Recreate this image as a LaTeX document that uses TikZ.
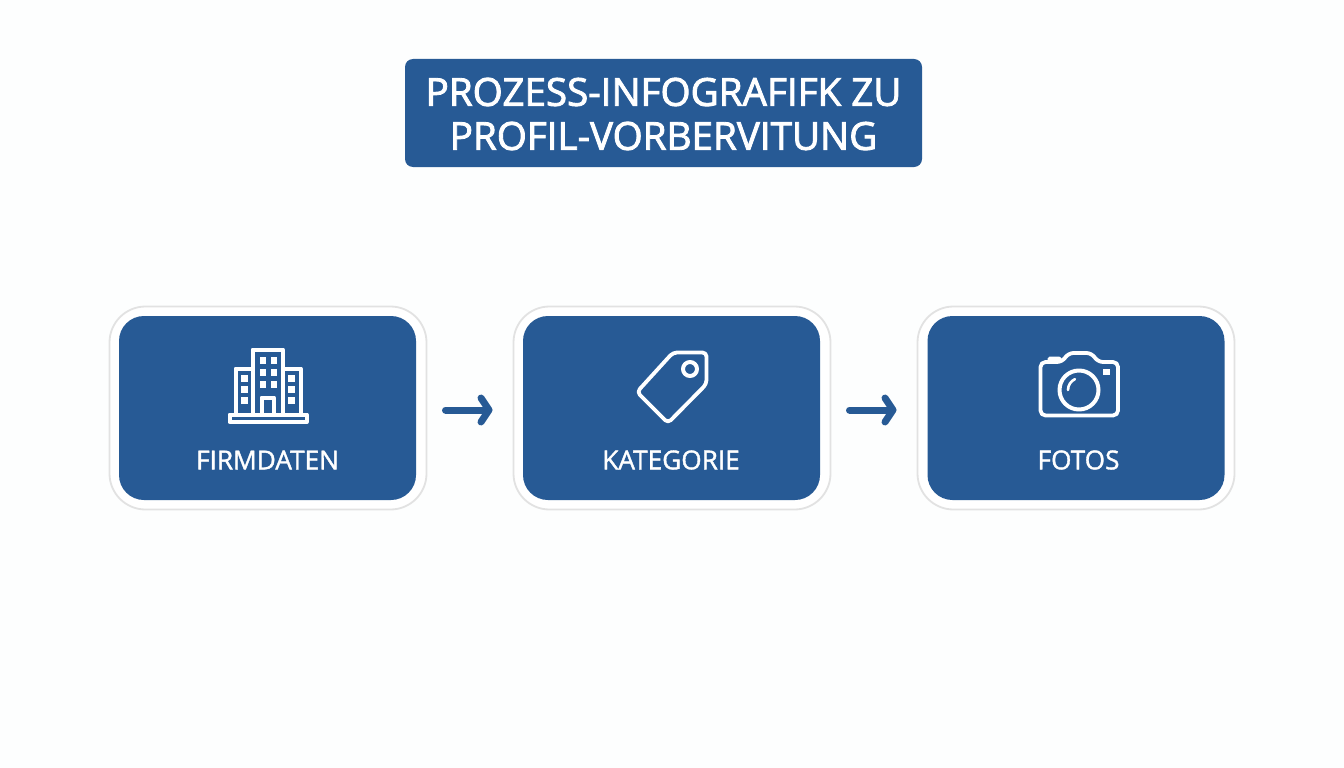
\documentclass[tikz,border=0pt]{standalone}
\usepackage{fontspec}
\setmainfont{Open Sans}
\newfontfamily\titlefont[FakeBold=2.2]{Open Sans}
\newfontfamily\labelfont[FakeBold=1.4]{Open Sans}
\usetikzlibrary{arrows.meta}
\definecolor{brand}{HTML}{275A95}
\definecolor{ringgray}{HTML}{E2E2E2}
\definecolor{paper}{HTML}{FDFEFE}
\tikzset{
  ring/.style={draw=ringgray,line width=1.8pt,fill=white,rounded corners=36pt,minimum width=317pt,minimum height=203pt,inner sep=0pt,outer sep=0pt},
  panel/.style={fill=brand,rounded corners=25pt,minimum width=297pt,minimum height=184pt,inner sep=0pt,outer sep=0pt},
  banner/.style={fill=brand,rounded corners=8pt,minimum width=517pt,minimum height=108pt,inner sep=0pt,outer sep=0pt},
  banner text/.style={text=white,font=\titlefont\fontsize{38.6}{44}\selectfont,align=center,inner sep=0pt},
  caption/.style={text=white,font=\labelfont\fontsize{26.2}{30}\selectfont,inner sep=0pt},
  flow/.style={draw=brand,line width=7pt,line cap=round,-{Straight Barb[length=8pt,width=24pt,line cap=round,line join=round]},shorten <=19pt,shorten >=21pt},
  icon/.style={draw=white,line width=4pt,line join=round},
  iconthin/.style={draw=white,line width=3.8pt,line join=round,line cap=round},
  iconfill/.style={fill=white}
}
\begin{document}
\begin{tikzpicture}[x=1pt,y=-1pt]
\useasboundingbox (0,0) rectangle (1344,768);
\fill[paper] (0,0) rectangle (1344,768);
% title
\node[banner] (title) at (663.5,113) {};
\node[banner text] (titletext) at (663.5,114) {PROZESS-INFOGRAFIFK ZU\\PROFIL-VORBERVITUNG};
% boxes
\node[ring] (a) at (268,408) {};
\node[ring] (b) at (672,408) {};
\node[ring] (c) at (1076,408) {};
\node[panel] (pa) at (267.5,408) {};
\node[panel] (pb) at (671.5,408) {};
\node[panel] (pc) at (1076,408) {};
\node[caption] (la) at (267.5,460) {FIRMDATEN};
\node[caption] (lb) at (671,460) {KATEGORIE};
\node[caption] (lc) at (1078.5,460) {FOTOS};
% arrows
\draw[flow] ([yshift=-2pt]a.east) -- ([yshift=-2pt]b.west);
\draw[flow] ([yshift=-2pt]b.east) -- ([yshift=-2pt]c.west);
% building icon
\draw[icon] (229.5,414.5) rectangle (306.5,422);
\draw[icon] (252.5,414) -- (252.5,349.5) -- (283,349.5) -- (283,414);
\draw[icon] (252.5,368.5) -- (235.5,368.5) -- (235.5,414);
\draw[icon] (283,368.5) -- (300.5,368.5) -- (300.5,414);
\draw[icon] (261.5,414) -- (261.5,397.5) -- (274,397.5) -- (274,414);
\foreach \x in {259.5,270.5}\foreach \y in {357,369,381}{\fill[iconfill] (\x,\y) rectangle ++(6.5,7);}
\foreach \x in {241,288}\foreach \y in {374.5,386,397}{\fill[iconfill] (\x,\y) rectangle ++(6.5,7);}
% tag icon
\draw[iconthin,rounded corners=4pt] (673,352.5) -- (706.5,352.5) -- (706.5,384) -- (668,423) -- (637,392) -- cycle;
\draw[icon] (690,369) circle (7pt);
% camera icon
\draw[iconthin,rounded corners=5pt] (1062,362) -- (1068.5,353) -- (1091.5,353) -- (1098,362) -- (1118,362) -- (1118,415.5) -- (1040.5,415.5) -- (1040.5,362) -- cycle;
\draw[iconthin] (1049.5,362) -- (1049.5,358.5) -- (1059,358.5) -- (1061,361);
\draw[icon] (1079,390) circle (19.5pt);
\draw[iconthin,line width=2.6pt] (1068,390) arc[start angle=180,end angle=115,radius=12pt];
\fill[iconfill] (1103,369) rectangle (1109.5,374.5);
\end{tikzpicture}
\end{document}
